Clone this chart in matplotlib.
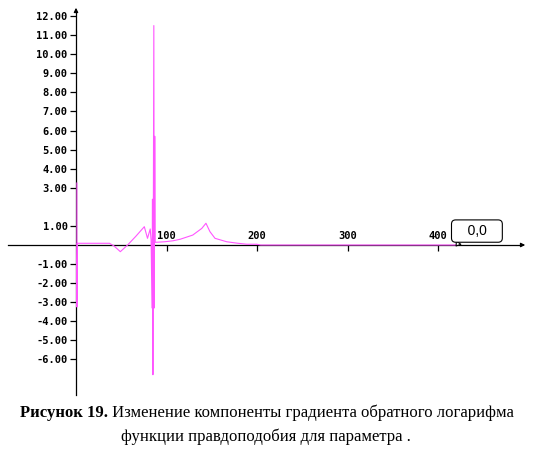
import matplotlib
matplotlib.use("Agg")
import matplotlib.pyplot as plt

# кривая градиента
grad_x = [1, 1, 1.5, 37, 42, 49, 57, 66, 75.5, 79, 82, 83, 84, 84.5, 85, 86, 86.5, 87, 87.5,
          98, 107, 115, 129, 139, 143.6, 148, 153.6, 166.5, 179, 188.6, 199.7, 204, 420]
grad_y = [3.25, -3.25, 0.09, 0.09, -0.05, -0.35, 0.0, 0.45, 0.96, 0.35, 0.84, 0.26, -3.3, 2.4, -6.8, 11.5, -3.3, 5.7, 0.14,
          0.17, 0.22, 0.3, 0.52, 0.87, 1.14, 0.7, 0.35, 0.17, 0.09, 0.04, 0.04, 0.0, 0.0]

y_ticks = [12, 11, 10, 9, 8, 7, 6, 5, 4, 3, 1, -1, -2, -3, -4, -5, -6]
x_ticks = [100, 200, 300, 400]
callout_text = "0,0"
caption_bold = "Рисунок 19."
caption_1 = "Изменение компоненты градиента обратного логарифма"
caption_2 = "функции правдоподобия для параметра ."

W, H = 534, 471
X0, Y0 = 76, 245          # положение нуля в пикселях
SX, SY = 0.905, 19.08     # пикселей на единицу

fig = plt.figure(figsize=(W / 100, H / 100), dpi=100)
ax = fig.add_axes([0, 0, 1, 1])
ax.set_xlim(-X0 / SX, (W - X0) / SX)
ax.set_ylim(-(H - Y0) / SY, Y0 / SY)

ax.plot(grad_x, grad_y, color="#ff55ff", lw=0.8, zorder=4)

# оси через ноль
for s in ["top", "right"]:
    ax.spines[s].set_visible(False)
ax.spines["left"].set_position(("data", 0))
ax.spines["bottom"].set_position(("data", 0))
ax.spines["left"].set_bounds(-(395 - Y0) / SY, (Y0 - 12) / SY)
ax.spines["bottom"].set_bounds((8 - X0) / SX, (520 - X0) / SX)
for s in ["left", "bottom"]:
    ax.spines[s].set_linewidth(0.9)
ax.annotate("", xy=(0, (Y0 - 5) / SY), xytext=(0, (Y0 - 14) / SY),
            arrowprops=dict(arrowstyle="-|>", lw=0.9, color="black", mutation_scale=6))
ax.annotate("", xy=((528 - X0) / SX, 0), xytext=((518 - X0) / SX, 0),
            arrowprops=dict(arrowstyle="-|>", lw=0.9, color="black", mutation_scale=6))

ax.set_yticks(y_ticks)
ax.set_yticklabels([f"{v:.2f}" for v in y_ticks], family="DejaVu Sans Mono",
                   fontweight="bold", fontsize=7.5)
ax.tick_params(axis="y", direction="out", length=4, width=0.9, pad=2)

ax.set_xticks(x_ticks)
ax.set_xticklabels([])
ax.tick_params(axis="x", direction="out", length=4, width=0.9)
for v in x_ticks:
    ax.text(v, 0.2, str(v), ha="center", va="bottom", family="DejaVu Sans Mono",
            fontweight="bold", fontsize=7.5)

# выноска
ax.annotate("   " + callout_text + "   ", xy=(420, -0.05), xytext=(443, 0.73), ha="center", va="center",
            fontsize=10, family="Liberation Sans", zorder=5,
            bbox=dict(boxstyle="round,pad=0.3", fc="white", ec="black", lw=0.8),
            arrowprops=dict(arrowstyle="wedge,tail_width=0.4", fc="white", ec="black", lw=0.8,
                            relpos=(0.15, 0.0), shrinkA=0, shrinkB=0))

# подпись
t1 = fig.text(20 / W, 1 - 413 / H, caption_bold, family="Liberation Serif", fontweight="bold",
              fontsize=12, va="center", ha="left")
ax.annotate(" " + caption_1, xy=(1, 0), xycoords=t1, va="bottom", ha="left",
            family="Liberation Serif", fontsize=12, annotation_clip=False)
fig.text(266 / W, 1 - 437 / H, caption_2, family="Liberation Serif", fontsize=12,
         va="center", ha="center")

fig.savefig("out.png", dpi=100)
